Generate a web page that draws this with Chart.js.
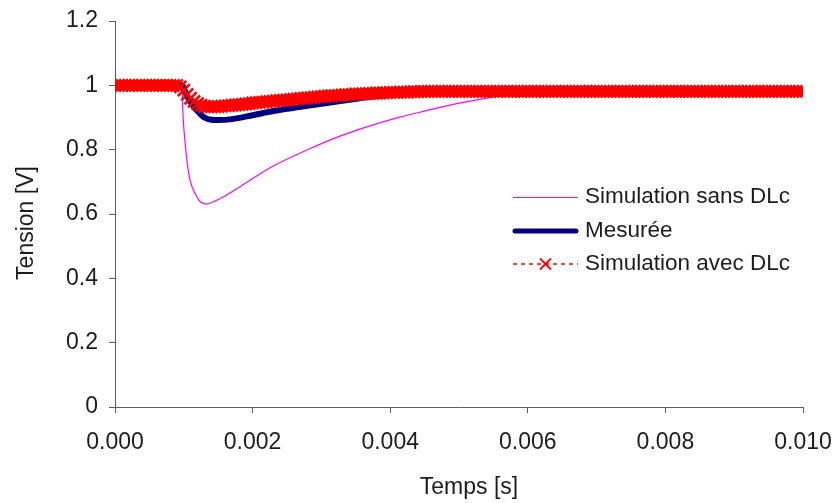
<!DOCTYPE html>
<html>
<head>
<meta charset="utf-8">
<script src="https://cdn.jsdelivr.net/npm/chart.js@4/dist/chart.umd.min.js"></script>
<style>
  html, body { margin: 0; padding: 0; background: #ffffff; }
  #wrap { width: 835px; height: 503px; position: relative; }
</style>
</head>
<body>
<div id="wrap"><canvas id="c" width="835" height="503"></canvas></div>
<script>
// ---- Data (time in milliseconds, tension in volts) ----
const seriesNames = ["Simulation sans DLc", "Mesurée", "Simulation avec DLc"];

const sansDLcTimeMs = [0, 0.96, 0.97, 0.99, 1.02, 1.05, 1.09, 1.16, 1.24, 1.33, 1.45, 1.6, 1.82, 2.0, 2.3, 2.79, 3.27, 3.66, 4.14, 4.5, 4.9, 5.45, 5.8, 6.2, 10];
const sansDLcValues = [1, 1, 1, 0.9, 0.82, 0.758, 0.706, 0.665, 0.638, 0.631, 0.64, 0.656, 0.685, 0.71, 0.749, 0.799, 0.842, 0.871, 0.901, 0.92, 0.94, 0.962, 0.975, 0.98, 0.98];

const mesureeTimeMs = [0, 0.97, 1.05, 1.16, 1.24, 1.3, 1.4, 1.5, 1.7, 2.0, 2.3, 2.7, 3.0, 3.3, 3.75, 4.2, 5.0, 6.0, 10];
const mesureeValues = [1, 1, 0.965, 0.93, 0.911, 0.9, 0.893, 0.892, 0.895, 0.907, 0.92, 0.933, 0.943, 0.952, 0.965, 0.973, 0.978, 0.98, 0.98];

const avecDLcTimeMs = [
  0,0.05,0.1,0.15,0.2,0.25,0.3,0.35,0.4,0.45,0.5,0.55,0.6,0.65,0.7,0.75,0.8,0.85,0.9,0.95,
  1,1.05,1.1,1.15,1.2,1.25,1.3,1.35,1.4,1.45,1.5,1.55,1.6,1.65,1.7,1.75,1.8,1.85,1.9,1.95,
  2,2.05,2.1,2.15,2.2,2.25,2.3,2.35,2.4,2.45,2.5,2.55,2.6,2.65,2.7,2.75,2.8,2.85,2.9,2.95,
  3,3.05,3.1,3.15,3.2,3.25,3.3,3.35,3.4,3.45,3.5,3.55,3.6,3.65,3.7,3.75,3.8,3.85,3.9,3.95,
  4,4.05,4.1,4.15,4.2,4.25,4.3,4.35,4.4,4.45,4.5,4.55,4.6,4.65,4.7,4.75,4.8,4.85,4.9,4.95,
  5,5.05,5.1,5.15,5.2,5.25,5.3,5.35,5.4,5.45,5.5,5.55,5.6,5.65,5.7,5.75,5.8,5.85,5.9,5.95,
  6,6.05,6.1,6.15,6.2,6.25,6.3,6.35,6.4,6.45,6.5,6.55,6.6,6.65,6.7,6.75,6.8,6.85,6.9,6.95,
  7,7.05,7.1,7.15,7.2,7.25,7.3,7.35,7.4,7.45,7.5,7.55,7.6,7.65,7.7,7.75,7.8,7.85,7.9,7.95,
  8,8.05,8.1,8.15,8.2,8.25,8.3,8.35,8.4,8.45,8.5,8.55,8.6,8.65,8.7,8.75,8.8,8.85,8.9,8.95,
  9,9.05,9.1,9.15,9.2,9.25,9.3,9.35,9.4,9.45,9.5,9.55,9.6,9.65,9.7,9.75,9.8,9.85,9.9,9.95,
  10
];
const avecDLcValues = [
  1,1,1,1,1,1,1,1,1,1,1,1,1,1,1,1,1,1,1,0.995,
  0.985,0.972,0.96,0.95,0.943,0.938,0.935,0.933,0.933,0.933,0.934,0.935,0.936,0.937,0.938,0.939,0.94,0.941,0.942,0.943,
  0.945,0.946,0.947,0.948,0.949,0.95,0.951,0.952,0.953,0.954,0.955,0.956,0.957,0.958,0.959,0.96,0.961,0.962,0.963,0.964,
  0.965,0.966,0.967,0.968,0.968,0.969,0.97,0.971,0.971,0.972,0.973,0.973,0.974,0.974,0.975,0.975,0.976,0.976,0.977,0.977,
  0.978,0.978,0.978,0.979,0.979,0.979,0.98,0.98,0.98,0.981,0.981,0.981,0.981,0.981,0.981,0.981,0.981,0.981,0.981,0.981,
  0.981,0.981,0.981,0.981,0.981,0.981,0.981,0.981,0.981,0.981,0.981,0.981,0.981,0.981,0.981,0.981,0.981,0.981,0.981,0.981,
  0.981,0.981,0.981,0.981,0.981,0.981,0.981,0.981,0.981,0.981,0.981,0.981,0.981,0.981,0.981,0.981,0.981,0.981,0.981,0.981,
  0.981,0.981,0.981,0.981,0.981,0.981,0.981,0.981,0.981,0.981,0.981,0.981,0.981,0.981,0.981,0.981,0.981,0.981,0.981,0.981,
  0.981,0.981,0.981,0.981,0.981,0.981,0.981,0.981,0.981,0.981,0.981,0.981,0.981,0.981,0.981,0.981,0.981,0.981,0.981,0.981,
  0.981,0.981,0.981,0.981,0.981,0.981,0.981,0.981,0.981,0.981,0.981,0.981,0.981,0.981,0.981,0.981,0.981,0.981,0.981,0.981,
  0.981
];

const xTickValues = [0, 0.002, 0.004, 0.006, 0.008, 0.010];
const yTickValues = [0, 0.2, 0.4, 0.6, 0.8, 1, 1.2];
const xTitle = "Temps [s]";
const yTitle = "Tension [V]";

// ---- Build point lists ----
function pts(tMs, v) { return tMs.map((t, i) => ({ x: t / 1000, y: v[i] })); }

const FONT = "'Liberation Sans', Arial, Helvetica, sans-serif";
const TEXT = "#1c1c1c";
const AXIS = "#5c5c5c";
const MAGENTA = "#ff00ff";
const NAVY = "#000080";
const RED = "#ff0000";

const overlayPlugin = {
  id: "overlay",
  afterDraw(chart) {
    const ctx = chart.ctx;
    ctx.save();
    // axis titles
    ctx.fillStyle = TEXT;
    ctx.font = "23px " + FONT;
    ctx.textAlign = "center";
    ctx.textBaseline = "middle";
    ctx.fillText(xTitle, 469, 488);
    ctx.save();
    ctx.translate(27, 223);
    ctx.rotate(-Math.PI / 2);
    ctx.fillText(yTitle, 0, 0);
    ctx.restore();

    // legend
    const lx0 = 513, lx1 = 578, tx = 585;
    const rows = [197, 231, 264];
    ctx.font = "22.5px " + FONT;
    ctx.textAlign = "left";
    ctx.textBaseline = "middle";
    // row 1
    ctx.strokeStyle = MAGENTA; ctx.lineWidth = 1; ctx.setLineDash([]);
    ctx.beginPath(); ctx.moveTo(lx0, rows[0] + 0.5); ctx.lineTo(lx1, rows[0] + 0.5); ctx.stroke();
    ctx.fillText(seriesNames[0], tx, rows[0]);
    // row 2
    ctx.strokeStyle = NAVY; ctx.lineWidth = 5; ctx.lineCap = "round";
    ctx.beginPath(); ctx.moveTo(lx0 + 2, rows[1]); ctx.lineTo(lx1 - 2, rows[1]); ctx.stroke();
    ctx.lineCap = "butt";
    ctx.fillText(seriesNames[1], tx, rows[1]);
    // row 3
    ctx.strokeStyle = RED; ctx.lineWidth = 1.5; ctx.setLineDash([4, 4]);
    ctx.beginPath(); ctx.moveTo(lx0, rows[2]); ctx.lineTo(lx1, rows[2]); ctx.stroke();
    ctx.setLineDash([]);
    const cx = (lx0 + lx1) / 2, r = 5.5;
    ctx.lineWidth = 1.8;
    ctx.beginPath();
    ctx.moveTo(cx - r, rows[2] - r); ctx.lineTo(cx + r, rows[2] + r);
    ctx.moveTo(cx - r, rows[2] + r); ctx.lineTo(cx + r, rows[2] - r);
    ctx.stroke();
    ctx.fillText(seriesNames[2], tx, rows[2]);
    ctx.restore();
  }
};

new Chart(document.getElementById("c"), {
  type: "line",
  data: {
    datasets: [
      {
        label: seriesNames[2],
        data: pts(avecDLcTimeMs, avecDLcValues),
        borderColor: RED,
        borderWidth: 1.5,
        borderDash: [4, 4],
        pointStyle: "crossRot",
        pointRadius: 8.5,
        pointBorderWidth: 2.6,
        pointBorderColor: RED,
        pointBackgroundColor: RED,
        tension: 0,
        order: 0
      },
      {
        label: seriesNames[1],
        data: pts(mesureeTimeMs, mesureeValues),
        borderColor: NAVY,
        borderWidth: 6,
        pointRadius: 0,
        cubicInterpolationMode: "monotone",
        order: 1
      },
      {
        label: seriesNames[0],
        data: pts(sansDLcTimeMs, sansDLcValues),
        borderColor: MAGENTA,
        borderWidth: 1.2,
        pointRadius: 0,
        cubicInterpolationMode: "monotone",
        order: 2
      }
    ]
  },
  options: {
    responsive: false,
    animation: false,
    events: [],
    layout: { padding: { left: 0, right: 32, top: 21, bottom: 0 } },
    plugins: { legend: { display: false }, tooltip: { enabled: false } },
    scales: {
      x: {
        type: "linear",
        min: 0, max: 0.01,
        afterBuildTicks(scale) { scale.ticks = xTickValues.map(v => ({ value: v })); },
        afterFit(scale) { scale.height = 96; scale.paddingLeft = 0; scale.paddingRight = 0; },
        ticks: {
          color: TEXT,
          font: { family: FONT, size: 23 },
          padding: 16,
          maxRotation: 0,
          callback: v => Number(v).toFixed(3)
        },
        grid: { drawOnChartArea: false, drawTicks: true, tickLength: 6, color: AXIS, tickColor: AXIS },
        border: { display: true, color: AXIS, width: 1 }
      },
      y: {
        type: "linear",
        min: 0, max: 1.2,
        afterBuildTicks(scale) { scale.ticks = yTickValues.map(v => ({ value: v })); },
        afterFit(scale) { scale.width = 115; scale.paddingTop = 0; scale.paddingBottom = 0; },
        ticks: {
          color: TEXT,
          font: { family: FONT, size: 23 },
          padding: 11,
          callback: v => String(Number(Number(v).toFixed(1)))
        },
        grid: { drawOnChartArea: false, drawTicks: true, tickLength: 6, color: AXIS, tickColor: AXIS },
        border: { display: true, color: AXIS, width: 1 }
      }
    }
  },
  plugins: [overlayPlugin]
});
</script>
</body>
</html>
